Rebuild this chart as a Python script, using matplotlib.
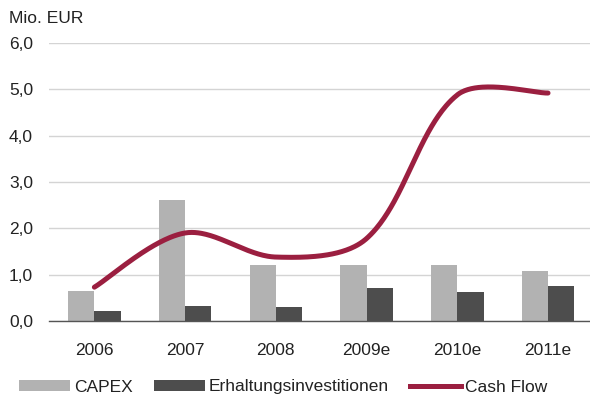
import numpy as np
import matplotlib
matplotlib.use("Agg")
import matplotlib.pyplot as plt
from matplotlib.lines import Line2D
from matplotlib.patches import Patch

years = ["2006", "2007", "2008", "2009e", "2010e", "2011e"]
capex = [0.65, 2.61, 1.21, 1.21, 1.21, 1.08]
erhaltung = [0.22, 0.32, 0.30, 0.71, 0.63, 0.76]
cash_flow = [0.73, 1.90, 1.38, 1.78, 4.88, 4.92]
y_ticks = [0.0, 1.0, 2.0, 3.0, 4.0, 5.0, 6.0]

COL_CAPEX = "#b2b2b2"
COL_ERH = "#4d4d4d"
COL_CF = "#9b1f40"
TXT = "#222222"
FS = 12.5

plt.rcParams["font.family"] = ["Liberation Sans", "DejaVu Sans"]


def smooth_curve(xs, ys, sx=1.0, sy=1.0, n=80):
    """Piecewise cubic Bezier through the points; tangents are weighted by
    the neighbouring segment lengths measured in display units."""
    pts = np.column_stack([np.asarray(xs) * sx, np.asarray(ys) * sy]).astype(float)
    m = len(pts)
    out = []
    for i in range(m - 1):
        p_prev = pts[max(i - 1, 0)]
        p0 = pts[i]
        p1 = pts[i + 1]
        p_next = pts[min(i + 2, m - 1)]
        d_prev = np.linalg.norm(p0 - p_prev)
        d_cur = np.linalg.norm(p1 - p0)
        d_next = np.linalg.norm(p_next - p1)
        f0 = d_cur / (d_prev + d_cur) / 3.0 if d_prev > 0 else 1 / 6
        f1 = d_cur / (d_cur + d_next) / 3.0 if d_next > 0 else 1 / 6
        c1 = p0 + (p1 - p_prev) * f0
        c2 = p1 - (p_next - p0) * f1
        t = np.linspace(0, 1, n)[:, None]
        seg = ((1 - t) ** 3) * p0 + 3 * ((1 - t) ** 2) * t * c1 \
            + 3 * (1 - t) * t ** 2 * c2 + t ** 3 * p1
        out.append(seg if i == 0 else seg[1:])
    seg = np.vstack(out)
    return seg[:, 0] / sx, seg[:, 1] / sy


fig = plt.figure(figsize=(5.9, 3.98), dpi=100)
ax = fig.add_axes([49 / 590, 1 - 321 / 398, (593.4 - 49) / 590, (321 - 43) / 398])

x = np.arange(len(years))
w = 0.29
ax.bar(x - w / 2, capex, width=w, color=COL_CAPEX, zorder=2)
ax.bar(x + w / 2, erhaltung, width=w, color=COL_ERH, zorder=2)

cx, cy = smooth_curve(x, cash_flow, sx=90.8, sy=46.33)
ax.plot(cx, cy, color=COL_CF, lw=3.6, solid_capstyle="round", zorder=3)

ax.set_xlim(-0.5, 5.5)
ax.set_ylim(0, 6)
ax.set_yticks(y_ticks)
ax.set_yticklabels([f"{v:.1f}".replace(".", ",") for v in y_ticks])
ax.set_xticks(x)
ax.set_xticklabels(years)
ax.tick_params(axis="both", length=0, labelsize=FS, colors=TXT)
ax.tick_params(axis="y", pad=11.5)
ax.tick_params(axis="x", pad=16)
ax.grid(axis="y", color="#d4d4d4", lw=1.0, zorder=0)
ax.set_axisbelow(True)
for s in ["top", "right", "left"]:
    ax.spines[s].set_visible(False)
ax.spines["bottom"].set_color("#555555")
ax.spines["bottom"].set_linewidth(1.0)
ax.spines["bottom"].set_zorder(4)

fig.text(9 / 590, 1 - 18.5 / 398, "Mio. EUR", fontsize=FS, color=TXT, va="center", ha="left")

handles = [
    Patch(facecolor=COL_CAPEX, edgecolor="none"),
    Patch(facecolor=COL_ERH, edgecolor="none"),
    Line2D([0], [0], color=COL_CF, lw=3.6),
]
fig.legend(handles, ["CAPEX", "Erhaltungsinvestitionen", "Cash Flow"],
           loc="center left", bbox_to_anchor=(19 / 590, 1 - 387 / 398),
           ncol=3, frameon=False, fontsize=FS, labelcolor=TXT,
           handlelength=2.94, handleheight=0.63, handletextpad=0.23,
           columnspacing=1.2, borderpad=0, borderaxespad=0)

fig.savefig("out.png", dpi=100)
